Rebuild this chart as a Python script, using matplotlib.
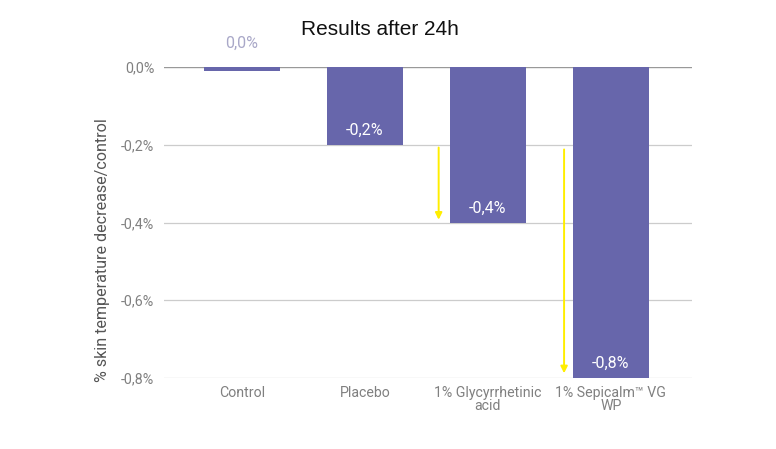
import matplotlib
matplotlib.use("Agg")
import matplotlib.pyplot as plt
from matplotlib.patches import FancyArrowPatch

categories = ["Control", "Placebo", "1% Glycyrrhetinic\nacid", "1% Sepicalm\u2122 VG\nWP"]
values = [-0.01, -0.2, -0.4, -0.8]
value_labels = ["0,0%", "-0,2%", "-0,4%", "-0,8%"]
yticks = [0.0, -0.2, -0.4, -0.6, -0.8]
ytick_labels = ["0,0%", "-0,2%", "-0,4%", "-0,6%", "-0,8%"]
# yellow arrows: (x position, start value, end value)
arrows = [(1.60, -0.2, -0.4), (2.62, -0.205, -0.795)]

bar_color = "#6766ab"

fig = plt.figure(figsize=(7.76, 4.49), dpi=100)
ax = fig.add_axes([0.2113, 0.1581, 0.6804, 0.6927])

x = list(range(len(categories)))
ax.bar(x, values, width=0.62, color=bar_color, zorder=3)

ax.set_ylim(-0.8, 0.0)
ax.set_xlim(-0.634, 3.66)
ax.set_yticks(yticks)
ax.set_yticklabels(ytick_labels, family="Roboto", fontsize=10.3, color="#808080")
ax.set_xticks(x)
ax.set_xticklabels(categories, family="Roboto", fontsize=10.2, color="#808080", linespacing=0.9)
ax.tick_params(axis="y", length=0, pad=7)
ax.tick_params(axis="x", length=0, pad=6)

for yv in yticks:
    ax.axhline(yv, color="#999999" if yv == 0 else "#cccccc", lw=1.0 if yv == 0 else 0.9, zorder=1)

for s in ax.spines.values():
    s.set_visible(False)

for xi, v, lab in zip(x, values, value_labels):
    if xi == 0:
        ax.text(xi, 0.062, lab, ha="center", va="center", family="Roboto", fontsize=11.5,
                color="#a9a8c8", clip_on=False)
    else:
        ax.text(xi, v + 0.037, lab, ha="center", va="center", family="Roboto", fontsize=11.5,
                color="white", zorder=4)

for ax_x, y0, y1 in arrows:
    ar = FancyArrowPatch((ax_x, y0), (ax_x, y1), arrowstyle="-|>", mutation_scale=10,
                         color="#ffee00", lw=1.4, zorder=5)
    ax.add_patch(ar)

ax.set_ylabel("% skin temperature decrease/control", family="Roboto", fontsize=11.6,
              color="#555555")
ax.yaxis.set_label_coords(-0.103, 0.41)

fig.text(0.49, 0.935, "Results after 24h", ha="center", va="center",
         family="Liberation Sans", fontsize=15, color="#111111")

fig.savefig("out.png", dpi=100, facecolor="white")
